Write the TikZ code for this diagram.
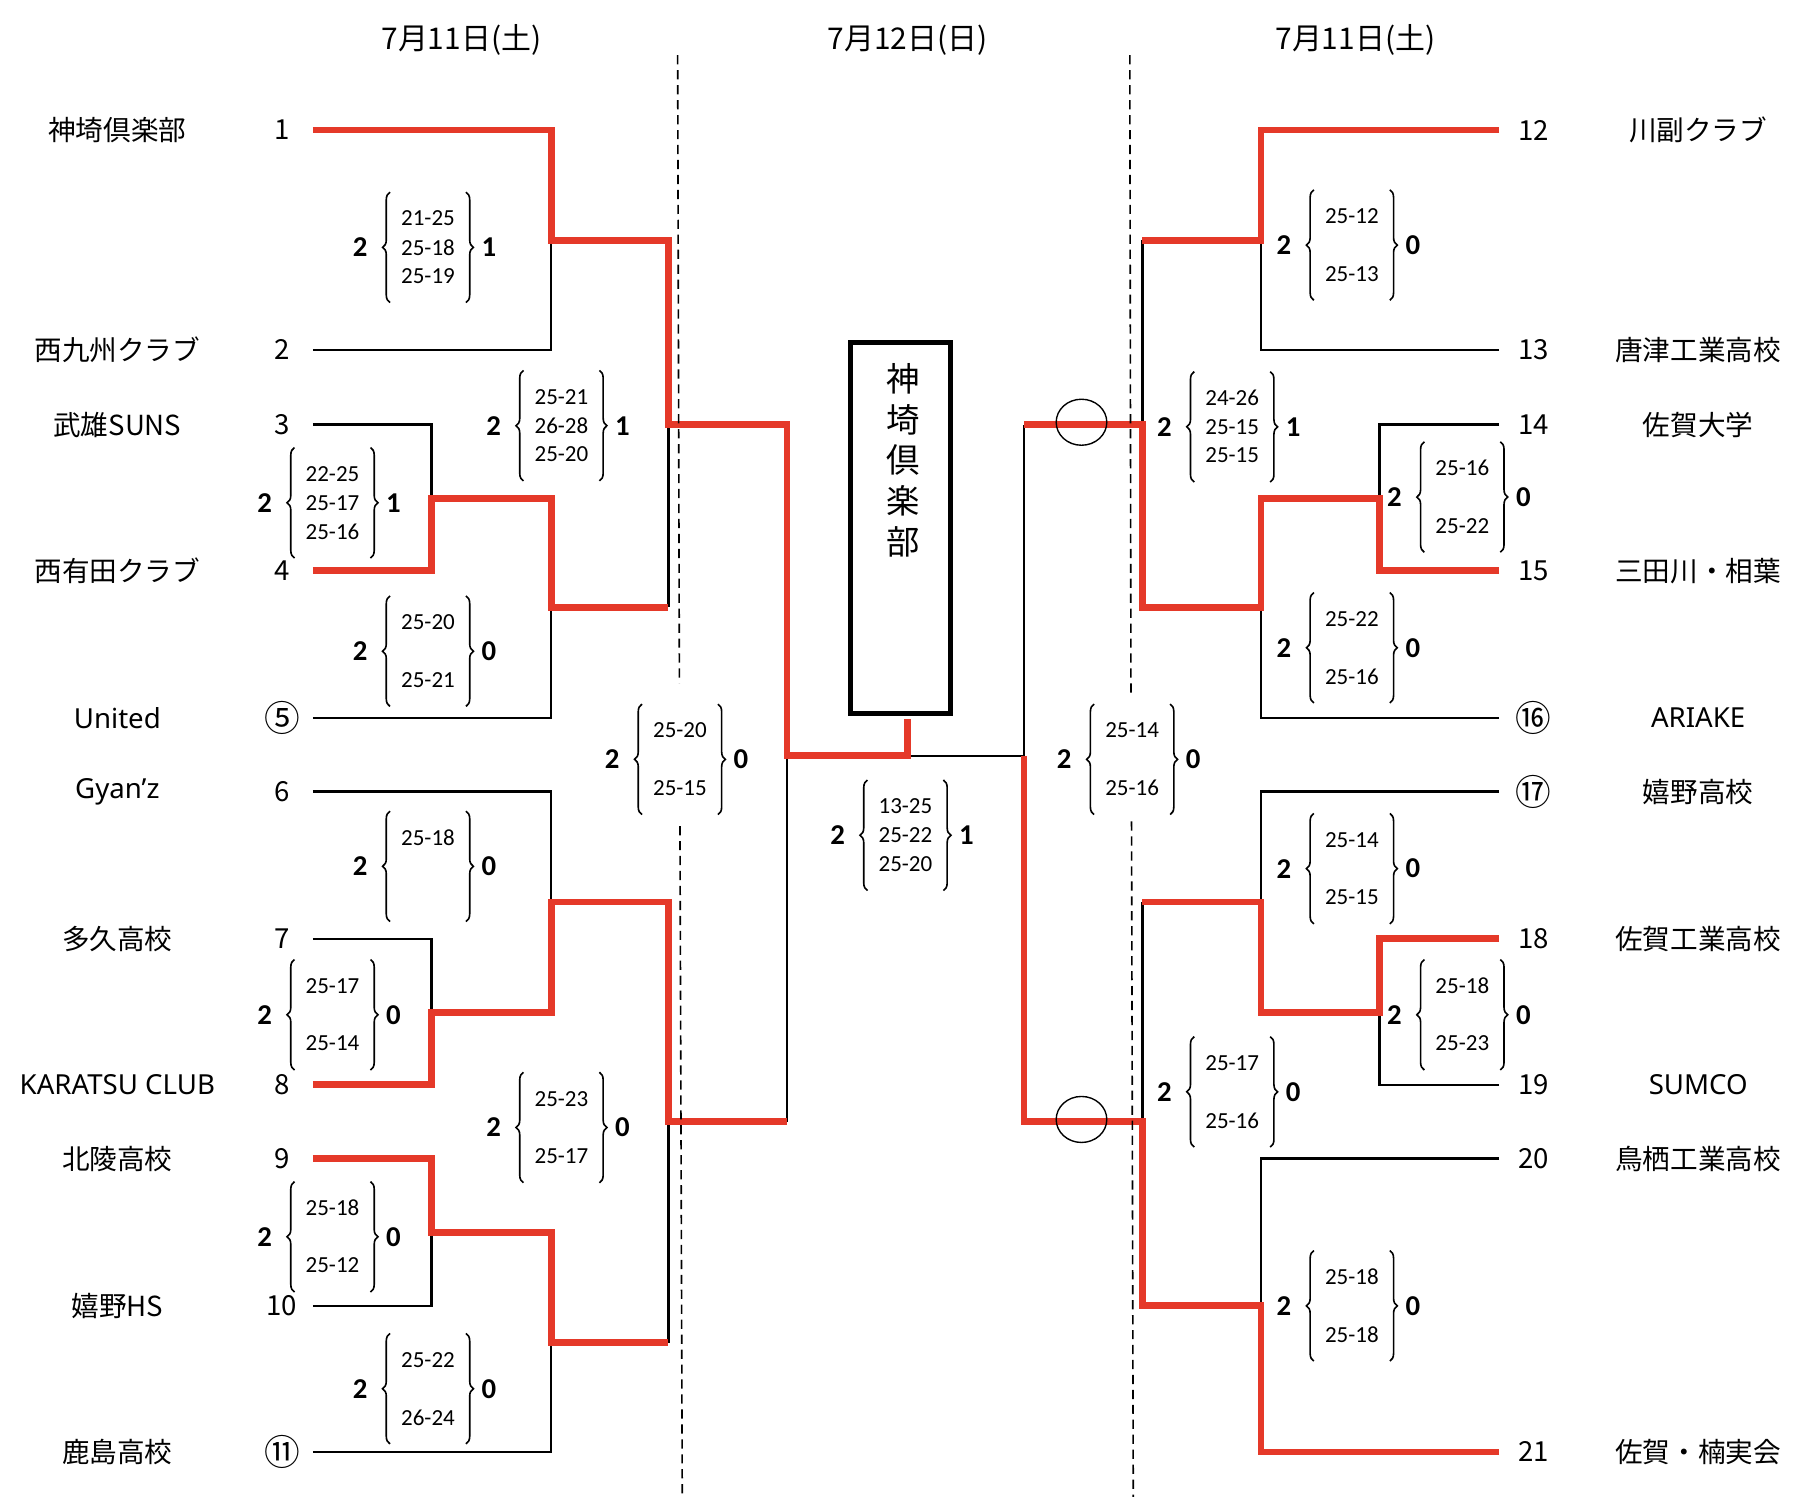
\documentclass[tikz,border=0pt]{standalone}
\usepackage{fontspec}
\setmainfont{Noto Sans CJK JP}
\newfontfamily\latn{Noto Sans}
\newfontfamily\scf{Carlito}
\usetikzlibrary{decorations.pathreplacing}
\definecolor{redl}{RGB}{229,57,41}
\newcommand{\scbox}[7]{%
  \node[bnum] (#1w) at (#2-59,#3) {2};
  \node[snum] (#1a) at (#2,#3-25) {#4};
  \node[snum] (#1b) at (#2,#3) {#5};
  \node[snum] (#1c) at (#2,#3+25) {#6};
  \node[bnum] (#1l) at (#2+53,#3) {#7};
  \draw[brc] (#2-33,#3+48) -- (#2-33,#3-48);
  \draw[brc] (#2+33,#3-48) -- (#2+33,#3+48);
}
\begin{document}
\begin{tikzpicture}[x=1pt,y=-1pt,
  redln/.style={draw=redl,line width=6pt,line join=miter},
  blkln/.style={draw=black,line width=2pt},
  dsh/.style={draw=black,line width=1.4pt,dash pattern=on 8pt off 5pt},
  team/.style={inner sep=0pt,font=\fontsize{24}{28}\selectfont},
  lteam/.style={inner sep=0pt,font=\latn\fontsize{24}{28}\selectfont},
  seed/.style={inner sep=0pt,font=\fontsize{24}{28}\selectfont},
  cseed/.style={inner sep=0pt,font=\fontsize{31}{34}\selectfont},
  ttl/.style={inner sep=0pt,font=\fontsize{26}{30}\selectfont},
  snum/.style={inner sep=0pt,font=\scf\fontsize{20}{24}\selectfont},
  bnum/.style={inner sep=0pt,font=\scf\bfseries\fontsize{25}{28}\selectfont},
  brc/.style={decorate,decoration={brace,amplitude=6.5pt},line width=1.4pt},
  ring/.style={draw=black,line width=1.2pt},
  champ/.style={draw=black,line width=4.5pt,minimum width=87pt,minimum height=322pt,inner sep=0pt}
]
\useasboundingbox (0,0) rectangle (1568,1301);
\fill[white] (0,0) rectangle (1568,1301);

% titles
\node[ttl] (t1) at (401,35) {7月11日(土)};
\node[ttl] (t2) at (789,35) {7月12日(日)};
\node[ttl] (t3) at (1178,35) {7月11日(土)};

% left team names and seeds
\node[team] (n1) at (102,113) {神埼倶楽部};
\node[team] (n2) at (102,304) {西九州クラブ};
\node[team] (n3) at (102,369) {武雄SUNS};
\node[team] (n4) at (102,496) {西有田クラブ};
\node[lteam] (n5) at (102,624) {United};
\node[lteam] (n6) at (102,688) {Gyan’z};
\node[team] (n7) at (102,816) {多久高校};
\node[lteam] (n8) at (102,943) {KARATSU CLUB};
\node[team] (n9) at (102,1007) {北陵高校};
\node[team] (n10) at (102,1135) {嬉野HS};
\node[team] (n11) at (102,1262) {鹿島高校};
\node[seed] (s1) at (245,113) {1};
\node[seed] (s2) at (245,304) {2};
\node[seed] (s3) at (245,369) {3};
\node[seed] (s4) at (245,496) {4};
\node[cseed] (s5) at (245,624) {⑤};
\node[seed] (s6) at (245,688) {6};
\node[seed] (s7) at (245,816) {7};
\node[seed] (s8) at (245,943) {8};
\node[seed] (s9) at (245,1007) {9};
\node[seed] (s10) at (245,1135) {10};
\node[cseed] (s11) at (245,1262) {⑪};

% right team names and seeds
\node[seed] (s12) at (1333,113) {12};
\node[seed] (s13) at (1333,304) {13};
\node[seed] (s14) at (1333,369) {14};
\node[seed] (s15) at (1333,496) {15};
\node[cseed] (s16) at (1333,624) {⑯};
\node[cseed] (s17) at (1333,688) {⑰};
\node[seed] (s18) at (1333,816) {18};
\node[seed] (s19) at (1333,943) {19};
\node[seed] (s20) at (1333,1007) {20};
\node[seed] (s21) at (1333,1262) {21};
\node[team] (n12) at (1476,113) {川副クラブ};
\node[team] (n13) at (1476,304) {唐津工業高校};
\node[team] (n14) at (1476,369) {佐賀大学};
\node[team] (n15) at (1476,496) {三田川・相葉};
\node[lteam] (n16) at (1476,624) {ARIAKE};
\node[team] (n17) at (1476,688) {嬉野高校};
\node[team] (n18) at (1476,816) {佐賀工業高校};
\node[lteam] (n19) at (1476,943) {SUMCO};
\node[team] (n20) at (1476,1007) {鳥栖工業高校};
\node[team] (n21) at (1476,1262) {佐賀・楠実会};

% champion box
\node[champ] (box) at (782.5,459) {};
\node[inner sep=0pt,font=\fontsize{29}{35}\selectfont,align=center] (champtxt) at (785,400)
  {神\\[0.3pt]埼\\[0.3pt]倶\\[0.3pt]楽\\[0.3pt]部};

% coordinates
\foreach \i/\y in {1/113,2/304,3/369,4/496,5/624,6/688,7/816,8/943,9/1007,10/1135,11/1262}
  \coordinate (L\i) at (272,\y);
\foreach \i/\y in {12/113,13/304,14/369,15/496,16/624,17/688,18/816,19/943,20/1007,21/1262}
  \coordinate (R\i) at (1303,\y);
\coordinate (fin) at (789,657);
\coordinate (boxb) at (789,625);

% black lines (left)
\draw[blkln] (L2) -| (479,209);
\draw[blkln] (L3) -| (375,433);
\draw[blkln] (L5) -| (479,528);
\draw[blkln] (581,528) -- (581,369);
\draw[blkln] (L7) -| (375,880);
\draw[blkln] (L6) -| (479,784);
\draw[blkln] (684,975) -- (684,657);
\draw[blkln] (L10) -| (375,1071);
\draw[blkln] (L11) -| (479,1167);
\draw[blkln] (581,975) -- (581,1167);
% black lines (right)
\draw[blkln] (R13) -| (1096,209);
\draw[blkln] (993,209) -- (993,369);
\draw[blkln] (R14) -| (1199,433);
\draw[blkln] (R16) -| (1096,528);
\draw[blkln] (890,369) -- (890,657) -- (fin);
\draw[blkln] (R19) -| (1199,880);
\draw[blkln] (R17) -| (1096,784);
\draw[blkln] (993,784) -- (993,975);
\draw[blkln] (R20) -| (1096,1135);

% red lines (left)
\draw[redln] (L1) -| (479,209) -- (581,209) |- (684,369) |- (fin) -- (boxb);
\draw[redln] (L4) -| (375,433) -- (479,433) |- (581,528);
\draw[redln] (L8) -| (375,880) -- (479,880) |- (581,784) |- (684,975);
\draw[redln] (L9) -| (375,1071) -- (479,1071) |- (581,1167);
% red lines (right)
\draw[redln] (R12) -| (1096,209) -- (993,209);
\draw[redln] (R15) -| (1199,433) -- (1096,433) |- (993,528) |- (890,369);
\draw[redln] (R18) -| (1199,880) -- (1096,880) |- (993,784);
\draw[redln] (R21) -| (1096,1135) -- (993,1135) |- (890,975) -- (890,657);

% dashed day separators
\draw[dsh] (589,48) -- (590.5,594);
\draw[dsh] (591,718) -- (593,1301);
\draw[dsh] (982,48) -- (983,604);
\draw[dsh] (983.5,714) -- (985,1301);

% circles
\draw[ring] (940,367) ellipse [x radius=22, y radius=20];
\draw[ring] (940,973) ellipse [x radius=22, y radius=20];

% score boxes
\scbox{A}{372}{215}{21-25}{25-18}{25-19}{1}
\scbox{B}{289}{437}{22-25}{25-17}{25-16}{1}
\scbox{C}{372}{566}{25-20}{}{25-21}{0}
\scbox{D}{488}{370}{25-21}{26-28}{25-20}{1}
\scbox{E}{372}{753}{25-18}{}{}{0}
\scbox{F}{289}{882}{25-17}{}{25-14}{0}
\scbox{I}{488}{980}{25-23}{}{25-17}{0}
\scbox{G}{289}{1075}{25-18}{}{25-12}{0}
\scbox{H}{372}{1207}{25-22}{}{26-24}{0}
\scbox{J}{591}{660}{25-20}{}{25-15}{0}
\scbox{Z}{787}{726}{13-25}{25-22}{25-20}{1}
\scbox{S}{984}{660}{25-14}{}{25-16}{0}
\scbox{K}{1175}{213}{25-12}{}{25-13}{0}
\scbox{N}{1071}{371}{24-26}{25-15}{25-15}{1}
\scbox{Lm}{1271}{432}{25-16}{}{25-22}{0}
\scbox{M}{1175}{563}{25-22}{}{25-16}{0}
\scbox{O}{1175}{755}{25-14}{}{25-15}{0}
\scbox{P}{1271}{882}{25-18}{}{25-23}{0}
\scbox{R}{1071}{949}{25-17}{}{25-16}{0}
\scbox{Q}{1175}{1135}{25-18}{}{25-18}{0}
\end{tikzpicture}
\end{document}
